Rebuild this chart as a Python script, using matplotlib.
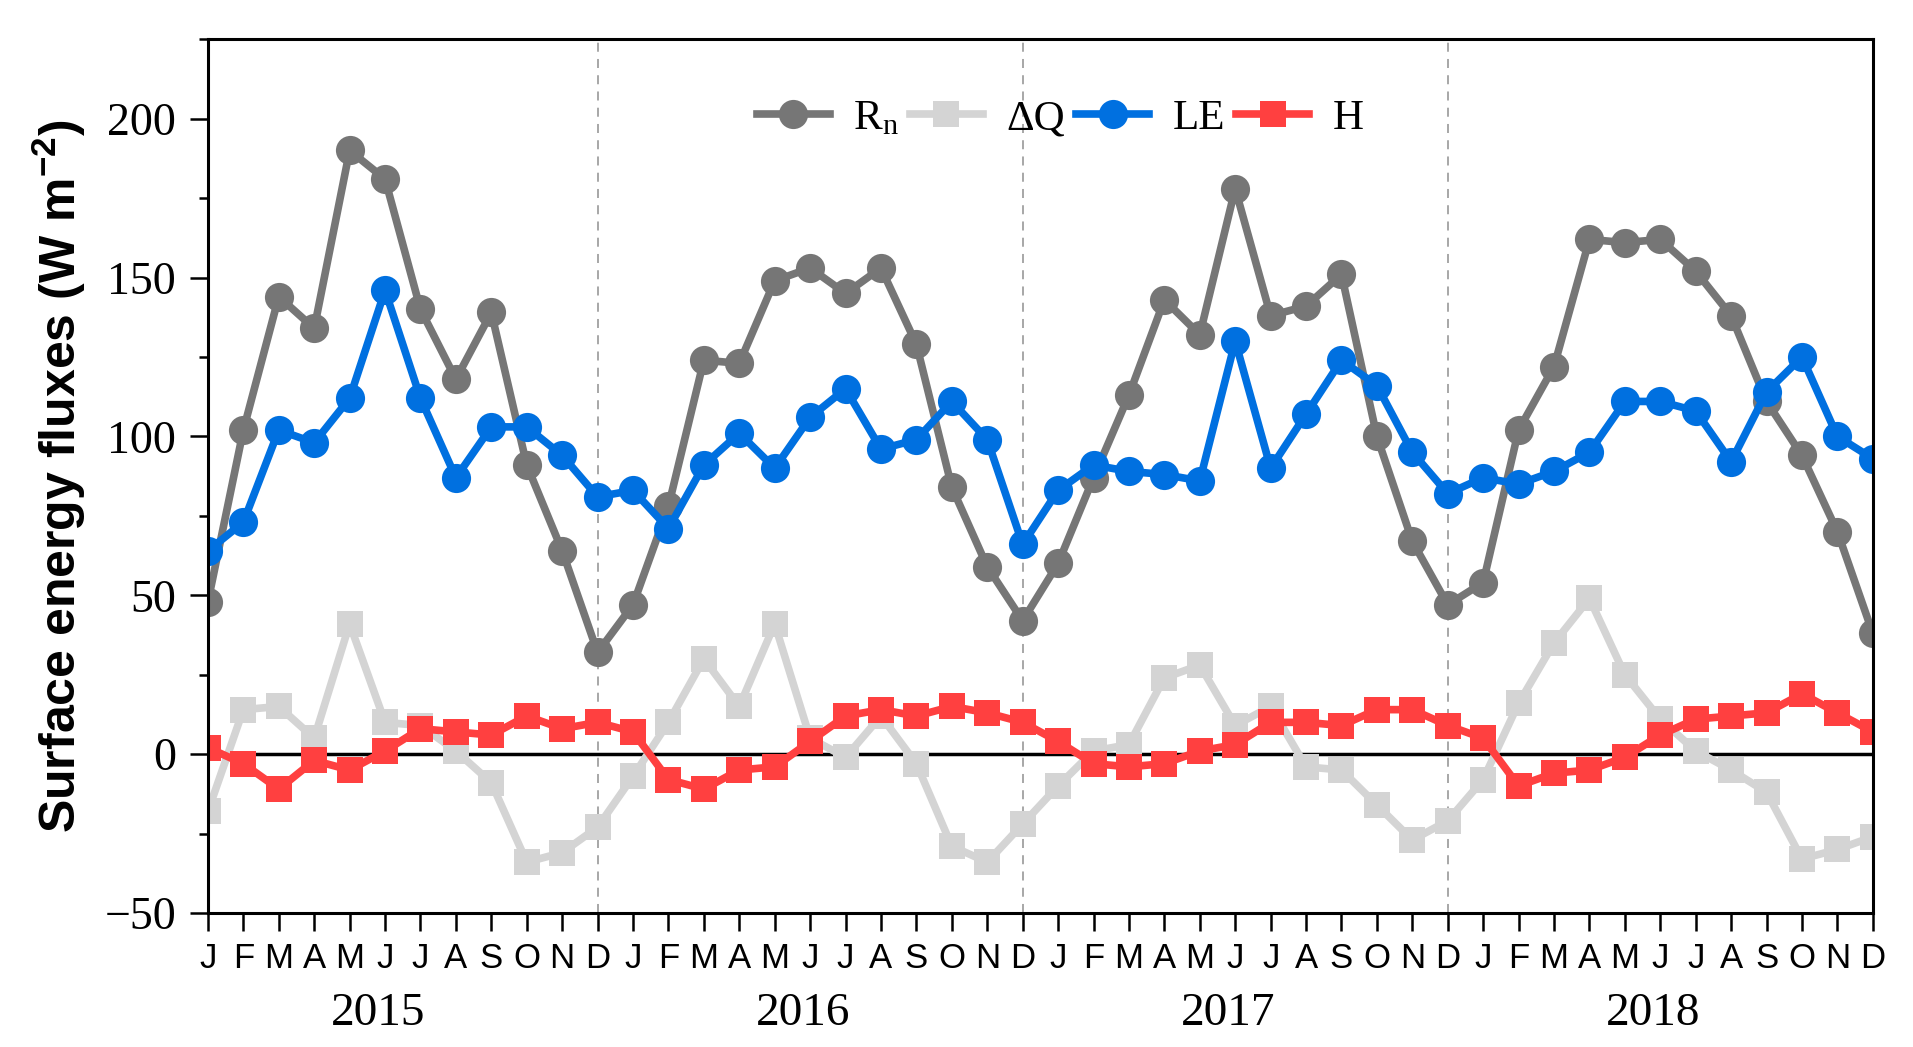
import numpy as np
import matplotlib
matplotlib.use('Agg')
import matplotlib.pyplot as plt

# fontes: serifa para numeros e legenda, sans para meses e eixo y
plt.rcParams['font.family'] = ['Liberation Serif', 'DejaVu Serif']
plt.rcParams['mathtext.fontset'] = 'custom'
plt.rcParams['mathtext.rm'] = 'Liberation Serif'
plt.rcParams['mathtext.bf'] = 'Liberation Sans:bold'

months = ['J', 'F', 'M', 'A', 'M', 'J', 'J', 'A', 'S', 'O', 'N', 'D']
years = ['2015', '2016', '2017', '2018']

# medias mensais (W m-2), jan 2015 ate dez 2018
rn = [48, 102, 144, 134, 190, 181, 140, 118, 139, 91, 64, 32,
      47, 78, 124, 123, 149, 153, 145, 153, 129, 84, 59, 42,
      60, 87, 113, 143, 132, 178, 138, 141, 151, 100, 67, 47,
      54, 102, 122, 162, 161, 162, 152, 138, 111, 94, 70, 38]
dq = [-18, 14, 15, 5, 41, 10, 9, 1, -9, -34, -31, -23,
      -7, 10, 30, 15, 41, 5, -1, 12, -3, -29, -34, -22,
      -10, 1, 3, 24, 28, 9, 15, -4, -5, -16, -27, -21,
      -8, 16, 35, 49, 25, 11, 1, -5, -12, -33, -30, -26]
le = [64, 73, 102, 98, 112, 146, 112, 87, 103, 103, 94, 81,
      83, 71, 91, 101, 90, 106, 115, 96, 99, 111, 99, 66,
      83, 91, 89, 88, 86, 130, 90, 107, 124, 116, 95, 82,
      87, 85, 89, 95, 111, 111, 108, 92, 114, 125, 100, 93]
h = [2, -3, -11, -2, -5, 1, 8, 7, 6, 12, 8, 10,
     7, -8, -11, -5, -4, 4, 12, 14, 12, 15, 13, 10,
     4, -3, -4, -3, 1, 3, 10, 10, 9, 14, 14, 9,
     5, -10, -6, -5, -1, 6, 11, 12, 13, 19, 13, 7]

x = np.arange(len(rn))

fig = plt.figure(figsize=(19.13, 10.47), dpi=100)
ax = fig.add_axes([0.1087, 0.128, 0.8703, 0.8345])

# linha do zero e separacao dos anos
ax.axhline(0, color='k', lw=2.5, zorder=1)
for d in [11, 23, 35]:
    ax.axvline(d, color='#a0a0a0', ls=(0, (5, 4)), lw=1.3, zorder=0)

ax.plot(x, rn, '-o', color='#767676', lw=5.5, ms=21, mew=0, label=r'$\mathrm{R_n}$')
ax.plot(x, dq, '-s', color='#d4d4d4', lw=5.5, ms=19, mew=0, label='ΔQ')
ax.plot(x, le, '-o', color='#0070e0', lw=5.5, ms=21, mew=0, label='LE')
ax.plot(x, h, '-s', color='#ff4040', lw=5.5, ms=19, mew=0, label='H')

ax.set_xlim(0, 47)
ax.set_ylim(-50, 225)
ax.set_xticks(x)
ax.set_xticklabels(months * 4, family='Liberation Sans', fontsize=25)
ax.set_yticks([-50, 0, 50, 100, 150, 200])
ax.set_yticks(np.arange(-25, 226, 50), minor=True)
ax.tick_params(axis='both', which='major', direction='out', length=13, width=1.8)
ax.tick_params(axis='y', which='major', labelsize=33, pad=10)
ax.tick_params(axis='x', which='major', pad=8)
ax.tick_params(axis='y', which='minor', direction='out', length=6.5, width=1.8)
for s in ax.spines.values():
    s.set_linewidth(2.2)

ax.set_ylabel(r'Surface energy fluxes (W m$^{\mathbf{-2}}$)',
              family='Liberation Sans', fontweight='bold', fontsize=36)
ax.yaxis.set_label_coords(-0.072, 0.5)

# anos abaixo dos meses
for k, yr in enumerate(years):
    ax.text(4.8 + 12 * k, -0.115, yr, transform=ax.get_xaxis_transform(),
            ha='center', va='center', fontsize=34)

ax.legend(loc='center', bbox_to_anchor=(0.512, 0.909), ncol=4, frameon=False,
          fontsize=31, handlelength=1.7, handletextpad=0.55, columnspacing=0.25,
          borderpad=0, borderaxespad=0)

plt.savefig('out.png', dpi=100)
